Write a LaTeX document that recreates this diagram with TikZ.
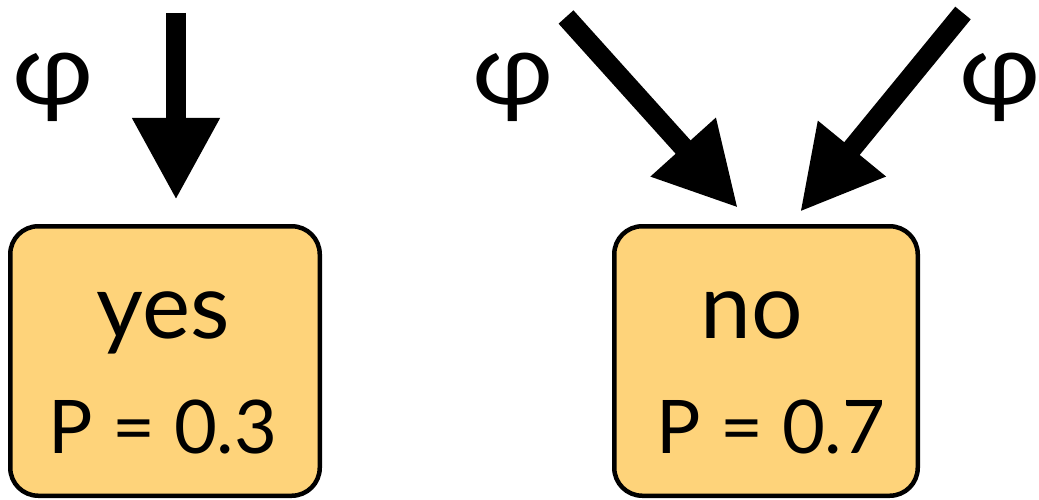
\documentclass[tikz,border=0pt]{standalone}
\usepackage{fontspec}
\setmainfont{Lato}
\usetikzlibrary{arrows.meta}
\definecolor{boxfill}{RGB}{254,211,122}
\begin{document}
\begin{tikzpicture}[x=1pt,y=-1pt,
 statebox/.style={draw=black, line width=4.5pt, fill=boxfill, rounded corners=28pt, minimum height=269.5pt, inner sep=0pt},
 bigarrow/.style={line width=20pt, line cap=butt, -{Triangle[length=82pt,width=82pt]}},
 phi/.style={font=\fontsize{100}{100}\selectfont, inner sep=0pt, xscale=1.1},
 word/.style={font=\fontsize{91}{91}\selectfont, inner sep=0pt, anchor=base},
 prob/.style={font=\fontsize{74}{74}\selectfont, inner sep=0pt, anchor=base}]
\useasboundingbox (0,0) rectangle (1039,500);
% boxes
\node[statebox, minimum width=309.5pt] (yes) at (165,361) {};
\node[statebox, minimum width=303.5pt] (no) at (766,361) {};
% texts
\node[word] (yestxt) at (163,338) {yes};
\node[prob] (yesp) at (163,453) {P = 0.3};
\node[word] (notxt) at (752,338) {no};
\node[prob] (nop) at (771,453) {P = 0.7};
% phi labels
\node[phi] (phiA) at (53.5,87) {φ};
\node[phi] (phiB) at (513,87) {φ};
\node[phi] (phiC) at (1000,87) {φ};
% arrow ends
\coordinate (sA) at (176,13);
\coordinate (tA) at (176,200);
\coordinate (sB) at (566,17);
\coordinate (tB) at (738,208);
\coordinate (sC) at (963,13);
\coordinate (tC) at (800,212);
\draw[bigarrow] (sA) -- (tA);
\draw[bigarrow] (sB) -- (tB);
\draw[bigarrow] (sC) -- (tC);
\end{tikzpicture}
\end{document}
